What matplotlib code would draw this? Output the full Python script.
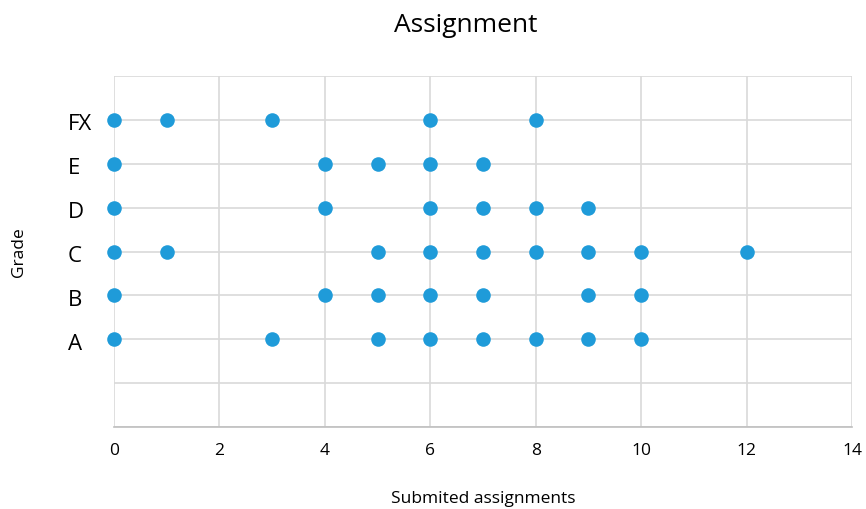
import matplotlib
matplotlib.use('Agg')
import matplotlib.pyplot as plt
import matplotlib.transforms as mtransforms

# ── 데이터 ───────────────────────────────────────────
grades = ["A", "B", "C", "D", "E", "FX"]
grade_pos = [2, 3, 4, 5, 6, 7]

submitted = {
    "A":  [0, 3, 5, 6, 7, 8, 9, 10],
    "B":  [0, 4, 5, 6, 7, 9, 10],
    "C":  [0, 1, 5, 6, 7, 8, 9, 10, 12],
    "D":  [0, 4, 6, 7, 8, 9],
    "E":  [0, 4, 5, 6, 7],
    "FX": [0, 1, 3, 6, 8],
}

x_ticks = [0, 2, 4, 6, 8, 10, 12, 14]

plt.rcParams['font.family'] = ['Open Sans', 'DejaVu Sans']

fig = plt.figure(figsize=(8.66, 5.10), dpi=100)
ax = fig.add_axes([0.1316, 0.1608, 0.8522, 0.6882])

DOT = "#1f9bd9"
GRID = "#d9d9d9"

xs, ys = [], []
for g, p in zip(grades, grade_pos):
    for v in submitted[g]:
        xs.append(v)
        ys.append(p)
ax.scatter(xs, ys, s=110, color=DOT, zorder=3, clip_on=False, linewidths=0)

ax.set_xlim(0, 14)
ax.set_ylim(0, 8)
ax.set_xticks(x_ticks)
ax.set_xticklabels([str(t) for t in x_ticks], fontsize=12.5)
ax.set_yticks(range(0, 9))
ax.set_yticklabels([""] * 9)

# 등급 라벨: 왼쪽 정렬, 살짝 아래로
trans = mtransforms.blended_transform_factory(fig.transFigure, ax.transData)
offset = mtransforms.ScaledTranslation(0, -4 / 100, fig.dpi_scale_trans)
for g, p in zip(grades, grade_pos):
    ax.text(0.0785, p, g, ha="left", va="center", fontsize=16,
            transform=trans + offset)

ax.tick_params(length=0, pad=11)
ax.grid(True, color=GRID, linewidth=1.2, zorder=0)
for side in ["top", "right", "left"]:
    ax.spines[side].set_visible(False)
ax.spines["bottom"].set_color("#bfbfbf")
ax.spines["bottom"].set_linewidth(1.2)

ax.set_xlabel("Submited assignments", fontsize=12.5, labelpad=23)
fig.text(0.022, 0.505, "Grade", rotation=90, ha="center", va="center", fontsize=12.5)
fig.suptitle("Assignment", fontsize=19, x=0.538, y=0.975)

plt.savefig("out.png", dpi=100)
plt.close()
